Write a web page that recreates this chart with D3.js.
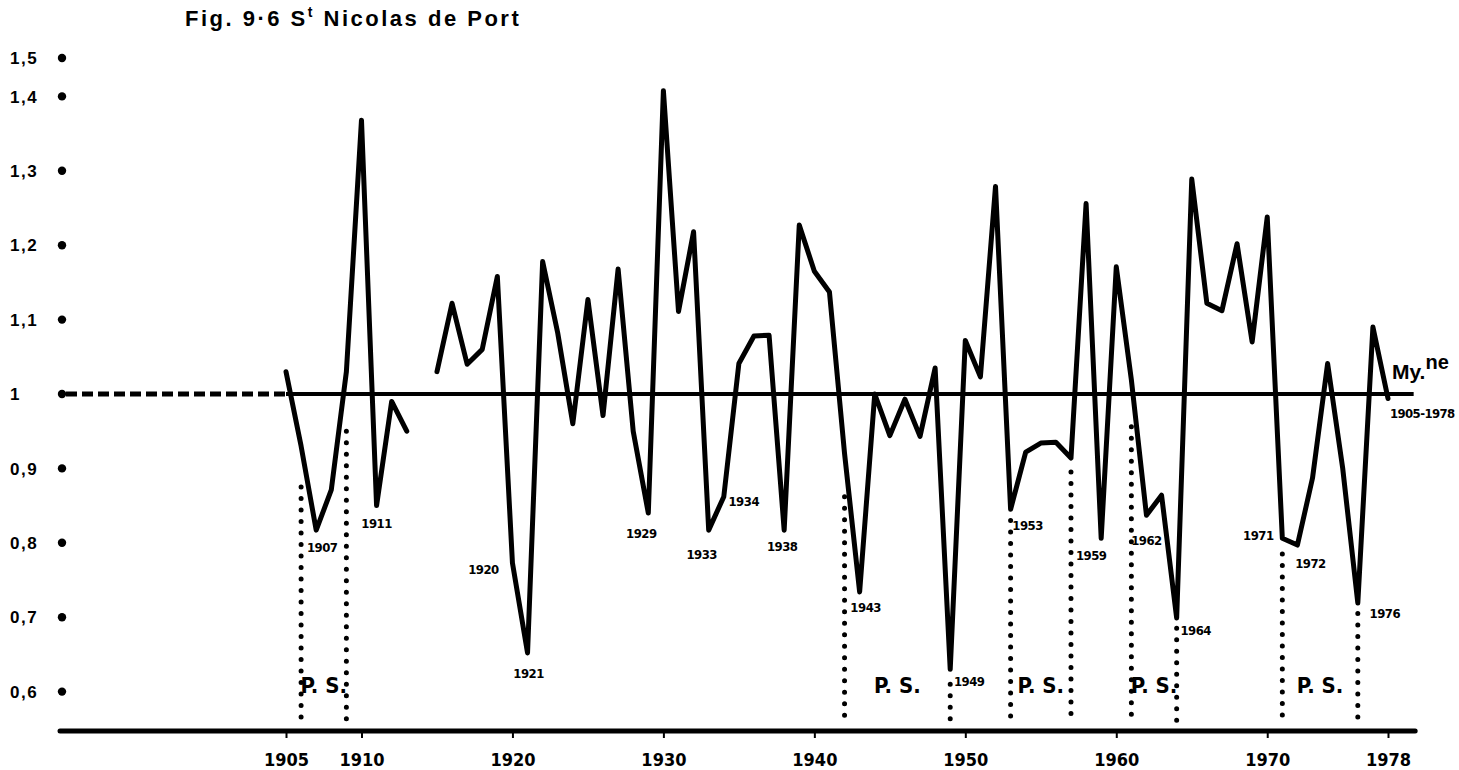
<!DOCTYPE html>
<html><head><meta charset="utf-8">
<script src="https://cdn.jsdelivr.net/npm/d3@7"></script>
<style>body{margin:0;background:#fff} svg{display:block}</style>
</head><body>
<svg id="c" width="1459" height="770"></svg>
<script>
// ---------- data ----------
const years = [1905,1906,1907,1908,1909,1910,1911,1912,1913,1914,
  1915,1916,1917,1918,1919,1920,1921,1922,1923,1924,1925,1926,1927,1928,1929,
  1930,1931,1932,1933,1934,1935,1936,1937,1938,1939,1940,1941,1942,1943,1944,
  1945,1946,1947,1948,1949,1950,1951,1952,1953,1954,1955,1956,1957,1958,1959,
  1960,1961,1962,1963,1964,1965,1966,1967,1968,1969,1970,1971,1972,1973,1974,
  1975,1976,1977,1978];
const values = [1.03,0.93,0.817,0.871,1.03,1.368,0.85,0.99,0.95,null,
  1.03,1.122,1.04,1.06,1.158,0.773,0.652,1.178,1.082,0.96,1.127,0.971,1.168,0.95,0.84,
  1.415,1.111,1.218,0.817,0.862,1.041,1.078,1.079,0.817,1.227,1.165,1.137,0.92,0.734,1.0,
  0.944,0.993,0.943,1.035,0.63,1.072,1.023,1.279,0.845,0.922,0.934,0.935,0.914,1.256,0.806,
  1.171,1.019,0.837,0.864,0.699,1.289,1.122,1.112,1.202,1.07,1.238,0.806,0.797,0.887,1.041,
  0.9,0.719,1.09,0.994];
const yTickValues = [1.5,1.4,1.3,1.2,1.1,1,0.9,0.8,0.7,0.6];
const yTickLabels = ["1,5","1,4","1,3","1,2","1,1","1","0,9","0,8","0,7","0,6"];
const xTickValues = [1905,1910,1920,1930,1940,1950,1960,1970,1978];
const psYears = [1906,1909,1942,1949,1953,1957,1961,1964,1971,1976];
const psTops  = [0.875,0.95,0.862,0.61,0.83,0.895,0.956,0.685,0.785,0.705];
const psPairs = [[1906,1909],[1942,1949],[1953,1957],[1961,1964],[1971,1976]];
const psLabel = "P. S.";
const annotYears = [1907,1911,1920,1921,1929,1933,1934,1938,1943,1949,1953,1959,1962,1964,1971,1972,1976];
const meanValue = 1;
const meanLabel = "My.", meanSup = "ne", meanPeriod = "1905-1978";
const titleMain = "Fig. 9·6  S", titleSup = "t", titleRest = " Nicolas de Port";

// ---------- layout ----------
const annotOffsets = {1907:[6,17],1911:[0,18],1920:[-29,6],1921:[1,20],1929:[-7,20],
  1933:[-7,24],1934:[20,5],1938:[-2,16],1943:[6,15],1949:[19,12],1953:[17,16],
  1959:[-10,17],1962:[0,25],1964:[19,12],1971:[-24,-3],1972:[13,18],1976:[27,10]};
const plotLeft = 60, axisY = 731, meanEndYear = 1979.7, axisEndYear = 1979.8, dotBottom = 722;

const svg = d3.select("#c");
const x = d3.scaleLinear().domain([1905,1978]).range([286,1388]);
const y = d3.scaleLinear().domain([0.6,1.4,1.5]).range([691.6,96.4,58]);

const boldFont = "'Liberation Sans', Arial, Helvetica, sans-serif";
const narrowFont = "'Liberation Sans Narrow', 'Arial Narrow', 'DejaVu Sans Condensed', sans-serif";

// title
const t = svg.append("text").attr("x",185).attr("y",26)
  .attr("font-family",boldFont).attr("font-size",22).attr("font-weight","bold")
  .attr("letter-spacing",2.5).attr("fill","#000");
t.append("tspan").text(titleMain);
t.append("tspan").attr("dy",-9).attr("font-size",14).text(titleSup);
t.append("tspan").attr("dy",9).text(titleRest);

// y-axis labels and dots
const yg = svg.append("g");
yTickValues.forEach((v,i)=>{
  yg.append("text").attr("x",10).attr("y",y(v)).attr("dy","0.36em")
    .attr("font-family",boldFont).attr("font-weight","bold").attr("font-size",17)
    .attr("letter-spacing",1.5).text(yTickLabels[i]);
  yg.append("circle").attr("cx",plotLeft+2).attr("cy",y(v)).attr("r",4.2).attr("fill","#000");
});

// mean line: dashed to 1905, solid afterwards
svg.append("line").attr("x1",plotLeft+6).attr("x2",x(1905)).attr("y1",y(meanValue)).attr("y2",y(meanValue))
  .attr("stroke","#000").attr("stroke-width",5).attr("stroke-dasharray","11 5");
svg.append("line").attr("x1",x(1905)).attr("x2",x(meanEndYear)).attr("y1",y(meanValue)).attr("y2",y(meanValue))
  .attr("stroke","#000").attr("stroke-width",4);

// bottom axis
svg.append("line").attr("x1",plotLeft).attr("x2",x(axisEndYear)).attr("y1",axisY).attr("y2",axisY)
  .attr("stroke","#000").attr("stroke-width",5).attr("stroke-linecap","round");
const xAxis = d3.axisBottom(x).tickValues(xTickValues).tickFormat(d3.format("d")).tickSize(7).tickPadding(15);
const xg = svg.append("g").attr("transform",`translate(0,${axisY})`).call(xAxis);
xg.select(".domain").remove();
xg.selectAll(".tick line").attr("stroke","#000").attr("stroke-width",2);
xg.selectAll(".tick text").attr("fill","#000").attr("font-family",narrowFont)
  .attr("font-weight","bold").attr("font-size",18);

// dotted P.S. lines
svg.append("g").selectAll("line").data(psYears).join("line")
  .attr("x1",d=>x(d)).attr("x2",d=>x(d))
  .attr("y1",(d,i)=>y(psTops[i])).attr("y2",dotBottom)
  .attr("stroke","#000").attr("stroke-width",5).attr("stroke-linecap","round")
  .attr("stroke-dasharray","0 11.5");

// P.S. labels
svg.append("g").selectAll("text").data(psPairs).join("text")
  .attr("x",d=>x((d[0]+d[1])/2)).attr("y",693).attr("text-anchor","middle")
  .attr("font-family",narrowFont).attr("font-weight","bold").attr("font-size",22)
  .text(psLabel);

// main series
const pts = years.map((yr,i)=>({yr, v:values[i]}));
const line = d3.line().defined(d=>d.v!==null).x(d=>x(d.yr)).y(d=>y(d.v));
svg.append("path").datum(pts).attr("d",line).attr("fill","none")
  .attr("stroke","#000").attr("stroke-width",5).attr("stroke-linejoin","round").attr("stroke-linecap","round");

// year annotations
svg.append("g").selectAll("text").data(annotYears).join("text")
  .attr("x",d=>x(d)+annotOffsets[d][0])
  .attr("y",d=>y(values[years.indexOf(d)])+annotOffsets[d][1])
  .attr("dy","0.36em").attr("text-anchor","middle")
  .attr("font-family",narrowFont).attr("font-weight","bold").attr("font-size",13)
  .attr("letter-spacing",-0.5).text(d=>d);

// mean label
const ml = svg.append("text").attr("x",x(1978)+4).attr("y",y(meanValue)-15)
  .attr("font-family",boldFont).attr("font-weight","bold").attr("font-size",21);
ml.append("tspan").text(meanLabel);
ml.append("tspan").attr("dy",-10).attr("font-size",20).text(meanSup);
svg.append("text").attr("x",x(1978)+2).attr("y",y(meanValue)+19).attr("dy","0.36em")
  .attr("font-family",narrowFont).attr("font-weight","bold").attr("font-size",13)
  .attr("letter-spacing",-0.6).text(meanPeriod);
</script>
</body></html>
